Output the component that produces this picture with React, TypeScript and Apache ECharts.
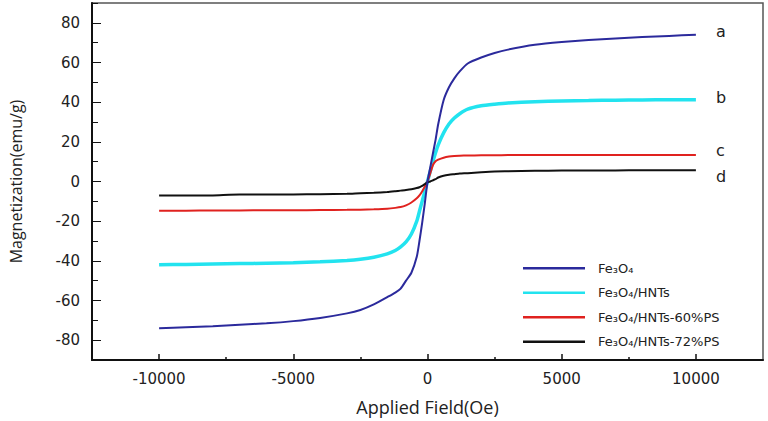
import React, { useEffect, useRef } from "react";
import * as echarts from "echarts";

const fields = [-10000, -9000, -8000, -7000, -6000, -5000, -4000, -3000, -2500, -2000, -1500, -1200, -1000, -800, -600, -400, -300, -200, -100, 0, 100, 200, 300, 400, 600, 800, 1000, 1200, 1500, 2000, 2500, 3000, 4000, 5000, 6000, 7000, 8000, 9000, 10000];

const fe3o4 = [-74, -73.5, -73, -72.2, -71.5, -70.4, -68.8, -66.5, -64.8, -62, -58.3, -56, -54, -50, -46, -38, -30, -21, -11, 0, 7, 14, 21, 29, 41, 47.5, 52, 55.5, 59.5, 62.5, 64.8, 66.5, 68.9, 70.3, 71.3, 72.1, 72.8, 73.4, 74];
const fe3o4Hnts = [-42, -41.8, -41.6, -41.4, -41.2, -41, -40.5, -39.8, -39.2, -38.2, -36.5, -34.8, -33, -30.5, -26.5, -20, -15, -10, -5, 0, 5, 10, 14.5, 18.5, 24.5, 29, 32, 34.2, 36.5, 38.2, 39, 39.6, 40.2, 40.6, 40.8, 41, 41.1, 41.2, 41.2];
const fe3o4Hnts60 = [-14.7, -14.7, -14.6, -14.6, -14.5, -14.5, -14.4, -14.3, -14.2, -14, -13.7, -13.3, -12.9, -12, -10.6, -8.5, -7, -5, -2.5, 0, 4, 8.2, 10.2, 11, 12, 12.6, 12.9, 13, 13.1, 13.2, 13.2, 13.3, 13.3, 13.3, 13.3, 13.3, 13.4, 13.4, 13.4];
const fe3o4Hnts72 = [-7.1, -7.1, -7.0, -6.6, -6.6, -6.5, -6.4, -6.2, -5.9, -5.7, -5.3, -4.9, -4.6, -4.3, -3.9, -3.3, -2.9, -2.2, -1.3, -0.5, 0, 0.6, 1.2, 2, 2.9, 3.4, 3.7, 4, 4.2, 4.7, 5.1, 5.2, 5.4, 5.5, 5.6, 5.6, 5.7, 5.7, 5.7];

const seriesNames = ["Fe₃O₄", "Fe₃O₄/HNTs", "Fe₃O₄/HNTs-60%PS", "Fe₃O₄/HNTs-72%PS"];
const curveLetters = ["a", "b", "c", "d"];
const yMajorTicks = [-80, -60, -40, -20, 0, 20, 40, 60, 80];
const yMinorTicks = [-90, -70, -50, -30, -10, 10, 30, 50, 70, 90];
const xMajorTicks = [-10000, -5000, 0, 5000, 10000];
const xMinorTicks = [-7500, -2500, 2500, 7500];

export default function App() {
  const ref = useRef<HTMLDivElement>(null);
  useEffect(() => {
    if (!ref.current) return;
    const chart = echarts.init(ref.current, undefined, { renderer: "svg" });
    const values = [fe3o4, fe3o4Hnts, fe3o4Hnts60, fe3o4Hnts72];
    const colors = ["#2b2a9c", "#22e3ef", "#e0221f", "#111111"];
    const widths = [2, 3.5, 2, 2];
    const zs = [4, 2, 3, 3];
    const labelOffsets = [[0, -3], [0, -2], [0, -4], [0, 6]];
    const tickFont = { fontFamily: "DejaVu Sans", fontSize: 15, color: "#222" };
    chart.setOption({
      animation: false,
      backgroundColor: "#fff",
      grid: { left: 83, right: 5, top: 3, bottom: 56, show: true, borderColor: "#555", borderWidth: 1.5 },
      legend: {
        orient: "vertical",
        left: 518,
        top: 256,
        itemWidth: 62,
        itemHeight: 2.5,
        itemGap: 10,
        icon: "rect",
        data: seriesNames,
        textStyle: { fontFamily: "DejaVu Sans", fontSize: 13, color: "#222", padding: [0, 0, 0, 8], lineHeight: 14.5 },
      },
      xAxis: [
        {
          type: "value",
          min: -12500,
          max: 12500,
          name: "Applied Field(Oe)",
          nameLocation: "middle",
          nameGap: 38,
          nameTextStyle: { fontFamily: "Open Sans", fontSize: 18, color: "#222" },
          axisLine: { show: true, onZero: false, lineStyle: { color: "#111", width: 2 } },
          axisTick: { show: true, inside: true, length: 6, customValues: xMajorTicks, lineStyle: { color: "#111", width: 1.5 } },
          axisLabel: { ...tickFont, margin: 11, customValues: xMajorTicks, formatter: (v: number) => String(v) },
          splitLine: { show: false },
        },
        {
          type: "value",
          min: -12500,
          max: 12500,
          position: "bottom",
          axisLine: { show: false, onZero: false },
          axisTick: { show: true, inside: true, length: 3, customValues: xMinorTicks, lineStyle: { color: "#111", width: 1.5 } },
          axisLabel: { show: false },
          splitLine: { show: false },
        },
      ],
      yAxis: [
        {
          type: "value",
          min: -90,
          max: 90,
          name: "Magnetization(emu/g)",
          nameLocation: "middle",
          nameGap: 68,
          nameTextStyle: { fontFamily: "Open Sans", fontSize: 16, color: "#222" },
          axisLine: { show: true, onZero: false, lineStyle: { color: "#111", width: 2 } },
          axisTick: { show: true, inside: true, length: 9, customValues: yMajorTicks, lineStyle: { color: "#111", width: 1 } },
          axisLabel: { ...tickFont, margin: 12, customValues: yMajorTicks, formatter: (v: number) => String(v) },
          splitLine: { show: false },
        },
        {
          type: "value",
          min: -90,
          max: 90,
          position: "left",
          axisLine: { show: false, onZero: false },
          axisTick: { show: true, inside: true, length: 6, customValues: yMinorTicks, lineStyle: { color: "#111", width: 1 } },
          axisLabel: { show: false },
          splitLine: { show: false },
        },
      ],
      series: values.map((vals, i) => ({
        name: seriesNames[i],
        type: "line",
        data: fields.map((f, j) => [f, vals[j]]),
        symbol: "none",
        smooth: 0.2,
        z: zs[i],
        lineStyle: { color: colors[i], width: widths[i] },
        itemStyle: { color: colors[i] },
        endLabel: {
          show: true,
          formatter: curveLetters[i],
          distance: 20,
          offset: labelOffsets[i],
          fontFamily: "DejaVu Sans",
          fontSize: 16,
          color: "#222",
        },
      })),
    });
    return () => chart.dispose();
  }, []);
  return <div ref={ref} style={{ position: "fixed", left: 0, top: 0, width: 768, height: 421 }} />;
}
